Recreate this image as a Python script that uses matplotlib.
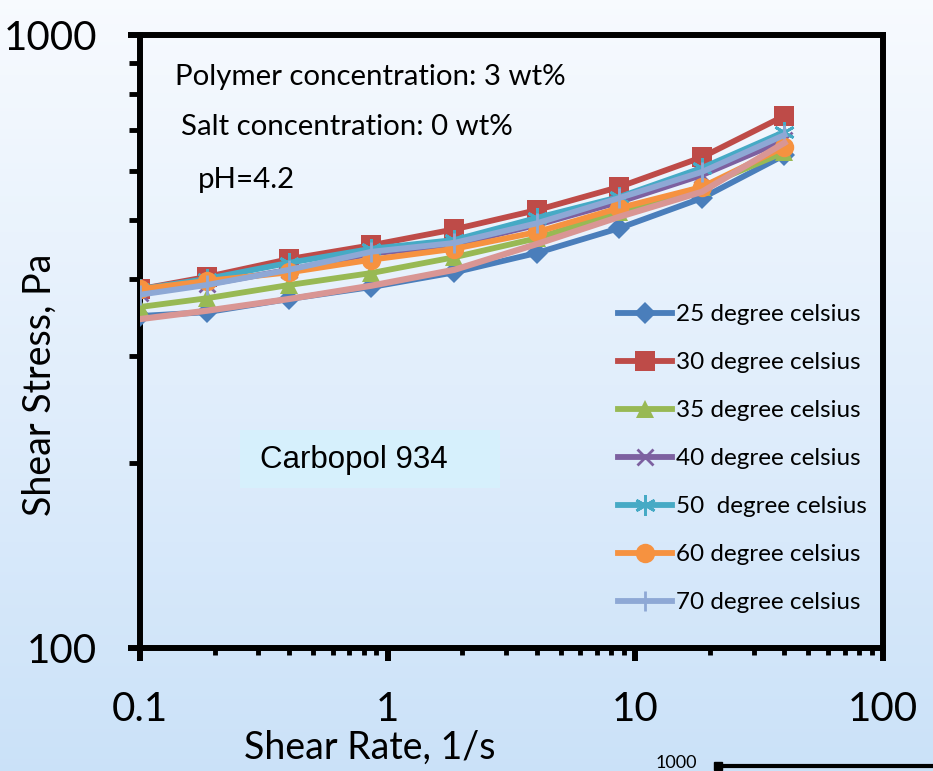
import matplotlib
matplotlib.use("Agg")
import matplotlib.pyplot as plt
import numpy as np
from matplotlib.lines import Line2D
from matplotlib.ticker import LogLocator, NullFormatter, FixedLocator, FixedFormatter

# ---------------- data ----------------
shear_rate = [0.1, 0.186, 0.4, 0.86, 1.86, 4.0, 8.6, 18.6, 40]

stress_25 = [348, 353, 371, 388, 410, 441, 484, 542, 637]
stress_30 = [385, 403, 431, 454, 482, 518, 565, 632, 738]
stress_35 = [360, 372, 391, 409, 434, 466, 514, 565, 644]
stress_40 = [380, 392, 414, 440, 455, 490, 534, 591, 674]
stress_50 = [385, 400, 425, 448, 463, 503, 544, 607, 695]
stress_60 = [385, 397, 410, 430, 448, 477, 522, 565, 657]
stress_70 = [377, 391, 414, 443, 458, 493, 542, 598, 687]
stress_extra = [344, 355, 371, 390, 414, 456, 505, 555, 667]

labels = ["25 degree celsius", "30 degree celsius", "35 degree celsius",
          "40 degree celsius", "50  degree celsius", "60 degree celsius",
          "70 degree celsius"]

x_ticks = [0.1, 1, 10, 100]
x_tick_labels = ["0.1", "1", "10", "100"]
y_ticks = [100, 1000]
y_tick_labels = ["100", "1000"]

# ---------------- figure ----------------
W, H = 933, 771
fig = plt.figure(figsize=(W / 100, H / 100), dpi=100)

# background gradient
bg = fig.add_axes([0, 0, 1, 1], zorder=-10)
bg.set_axis_off()
top = np.array([0.970, 0.982, 0.998])
bot = np.array([0.795, 0.885, 0.975])
t = np.linspace(0, 1, 256)[:, None]
grad = top[None, :] * (1 - t) + bot[None, :] * t
bg.imshow(grad[:, None, :].repeat(2, axis=1), aspect="auto", extent=[0, 1, 0, 1])
bg.set_xlim(0, 1)
bg.set_ylim(0, 1)

ax = fig.add_axes([140 / W, 1 - 648 / H, (883 - 140) / W, (648 - 35) / H])
ax.patch.set_alpha(0)

FONT = ["Lato", "DejaVu Sans"]

colors = ["#4A7EBB", "#BE4B48", "#98B954", "#7D60A0", "#46AAC5", "#F69240", "#8EA8D5"]
markers = ["D", "s", "^", "x", (6, 2, 0), "o", "|"]
msizes = [11, 14, 13, 12, 15, 14, 15]
series = [stress_25, stress_30, stress_35, stress_40, stress_50, stress_60, stress_70]

lw = 4.2
for i, (ys, c, m, ms, lab) in enumerate(zip(series, colors, markers, msizes, labels)):
    mew = 2.0 if m in ("x", "|") or isinstance(m, tuple) else 0
    ax.plot(shear_rate, ys, color=c, lw=lw, marker=m, markersize=ms,
            markeredgewidth=mew, markeredgecolor=c, markerfacecolor=c,
            label=lab, zorder=3 + i, clip_on=True)

ax.plot(shear_rate, stress_extra, color="#D99694", lw=lw + 0.3, label="_nolegend_",
        zorder=11)

ax.set_xscale("log")
ax.set_yscale("log")
ax.set_xlim(0.1, 100)
ax.set_ylim(100, 1000)

for sp in ax.spines.values():
    sp.set_linewidth(4.3)
    sp.set_color("black")

ax.xaxis.set_major_locator(FixedLocator(x_ticks))
ax.xaxis.set_major_formatter(FixedFormatter(x_tick_labels))
ax.yaxis.set_major_locator(FixedLocator(y_ticks))
ax.yaxis.set_major_formatter(FixedFormatter(y_tick_labels))
ax.xaxis.set_minor_locator(LogLocator(base=10, subs=np.arange(2, 10)))
ax.yaxis.set_minor_locator(LogLocator(base=10, subs=np.arange(2, 10)))
ax.xaxis.set_minor_formatter(NullFormatter())
ax.yaxis.set_minor_formatter(NullFormatter())

ax.tick_params(axis="x", which="major", direction="out", length=9, width=4.3,
               pad=22, labelsize=29)
ax.tick_params(axis="x", which="minor", direction="out", length=5, width=3.5)
ax.tick_params(axis="y", which="major", direction="out", length=9, width=4.3,
               pad=22, labelsize=29)
ax.tick_params(axis="y", which="minor", direction="out", length=8, width=3.5)
for lbl in ax.get_xticklabels() + ax.get_yticklabels():
    lbl.set_family(FONT)

ax.set_xlabel("Shear Rate, 1/s", fontsize=27, family=FONT)
ax.xaxis.set_label_coords((370 - 140) / (883 - 140), (648 - 748) / (648 - 35))
ax.xaxis.label.set_va("center")
ax.set_ylabel("Shear Stress, Pa", fontsize=27, family=FONT)
ax.yaxis.set_label_coords((40 - 140) / (883 - 140), (648 - 385) / (648 - 35))
ax.yaxis.label.set_va("center")

# annotations
fig.text(175 / W, 1 - 77 / H, "Polymer concentration: 3 wt%",
         fontsize=21.2, family=FONT, va="center", ha="left")
fig.text(181 / W, 1 - 127 / H, "Salt concentration: 0 wt%",
         fontsize=21.2, family=FONT, va="center", ha="left")
fig.text(198 / W, 1 - 180 / H, "pH=4.2",
         fontsize=21.2, family=FONT, va="center", ha="left")

box = plt.Rectangle((240 / W, 1 - 488 / H), 260 / W, 58 / H, transform=fig.transFigure,
                    facecolor="#D6F0FC", edgecolor="none", zorder=1)
fig.add_artist(box)
fig.text(260 / W, 1 - 460 / H, "Carbopol 934", fontsize=22.5,
         family=["Liberation Sans", "DejaVu Sans"], va="center", ha="left", zorder=2)

leg = ax.legend(loc="upper left", bbox_to_anchor=(606 / W, 1 - 292 / H),
                bbox_transform=fig.transFigure, frameon=False,
                prop={"family": FONT, "size": 17.5}, handlelength=2.2,
                handletextpad=0.2, labelspacing=1.11, borderpad=0)

# fragment of the next chart at bottom right
fig.text(697 / W, 1 - 763 / H, "1000", fontsize=13, family=FONT, ha="right", va="center")
fig.add_artist(Line2D([718 / W, 1.0], [1 - 766 / H, 1 - 766 / H], transform=fig.transFigure,
                      color="black", lw=3))
fig.add_artist(Line2D([718 / W], [1 - 766 / H], transform=fig.transFigure,
                      color="black", marker="s", markersize=6, lw=0))

fig.savefig("out.png", dpi=100)
